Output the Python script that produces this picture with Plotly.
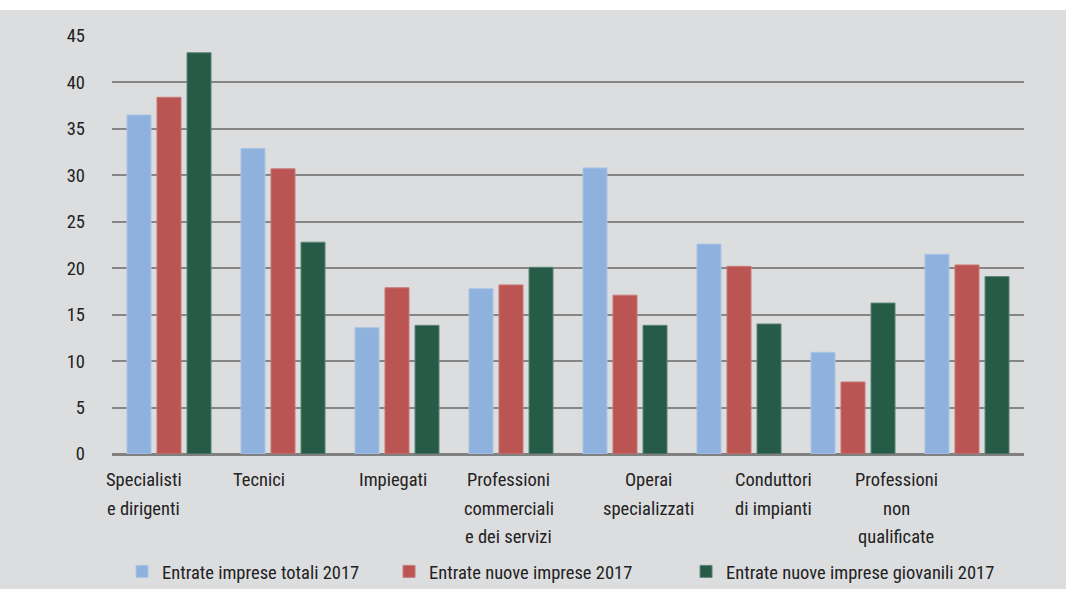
import plotly.graph_objects as go

# categories (last group has no label in the original)
categories = ["Specialisti<br>e dirigenti", "Tecnici", "Impiegati",
              "Professioni<br>commerciali<br>e dei servizi", "Operai<br>specializzati",
              "Conduttori<br>di impianti", "Professioni<br>non<br>qualificate", ""]

series_names = ["Entrate imprese totali 2017", "Entrate nuove imprese 2017",
                "Entrate nuove imprese giovanili 2017"]

totali = [36.5, 32.9, 13.6, 17.8, 30.8, 22.6, 10.95, 21.5]
nuove = [38.4, 30.7, 17.9, 18.2, 17.1, 20.2, 7.75, 20.35]
giovanili = [43.2, 22.8, 13.85, 20.1, 13.85, 14.0, 16.25, 19.1]

y_ticks = [0, 5, 10, 15, 20, 25, 30, 35, 40, 45]

# label offsets (in category units) to mimic the source layout
label_shift = [-0.22, -0.21, -0.035, -0.02, 0.21, 0.30, 0.38, 0]

colors = ["#8fb1dd", "#bb5553", "#255b47"]
edges = ["#abc5e6", "#c97a78", "#5f8676"]
legend_widths = [222, 252, 270]
font_family = "Roboto Condensed, Liberation Sans Narrow, sans-serif"
text_color = "#222222"
bg = "#dcdddf"

x_pos = list(range(len(categories)))
tick_vals = [i + s for i, s in zip(x_pos, label_shift)]

fig = go.Figure()
for name, vals, c, e, lw in zip(series_names, [totali, nuove, giovanili], colors, edges, legend_widths):
  fig.add_trace(go.Bar(
    x=x_pos,
    y=vals,
    name=name,
    legendwidth=lw,
    marker=dict(color=c, line=dict(color=e, width=1))
  ))

# category labels, one line at a time so the line spacing matches the source
for tv, cat in zip(tick_vals, categories):
  for k, line in enumerate(cat.split("<br>")):
    if not line:
      continue
    fig.add_annotation(
      x=tv, xref='x', y=0, yref='y',
      text=line, showarrow=False,
      xanchor='center', yanchor='middle',
      yshift=-(26 + 28.5 * k),
    )

fig.update_layout(
  width=1066,
  height=589,
  barmode='group',
  bargap=0.21,
  bargroupgap=0.2,
  paper_bgcolor=bg,
  plot_bgcolor=bg,
  margin=dict(l=112, r=42, t=36, b=135, autoexpand=False),
  font=dict(family=font_family, size=18.5, color=text_color),
  xaxis=dict(
    range=[-0.5, len(categories) - 0.5],
    showticklabels=False,
    showgrid=False,
    zeroline=False,
    showline=False,
    ticks='',
  ),
  yaxis=dict(
    range=[0, 45],
    tickmode='array',
    tickvals=y_ticks,
    showgrid=True,
    gridcolor='#858585',
    gridwidth=2,
    zeroline=True,
    zerolinecolor='#808080',
    zerolinewidth=3,
    ticks='',
    ticklabelstandoff=26,
    automargin=False,
  ),
  legend=dict(
    orientation='h',
    x=0.011,
    xanchor='left',
    y=-0.282,
    yanchor='middle',
    bgcolor='rgba(0,0,0,0)',
    font=dict(size=18.5),
  ),
  shapes=[dict(
    type='rect', xref='paper', yref='paper',
    x0=-0.2, x1=1.2, y0=1 + 26 / 418, y1=1.3,
    fillcolor='white', line=dict(width=0), layer='below'
  )],
)

fig.write_html("out.html", config=dict(displayModeBar=False),
               post_script="document.body.style.margin='0';")
